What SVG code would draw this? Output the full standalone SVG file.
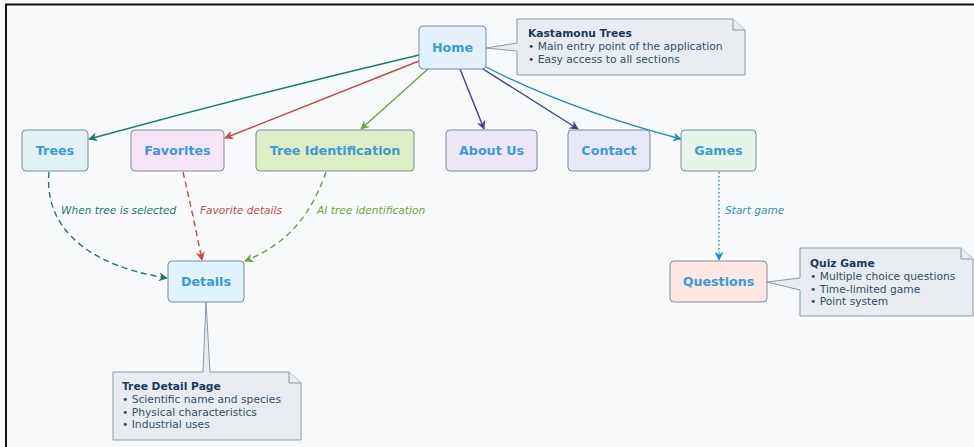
<svg xmlns="http://www.w3.org/2000/svg" width="974" height="447" viewBox="0 0 974 447">
<defs>
<style>
.bg{fill:#f7f9fb}
.node rect{stroke:#7d8b97;stroke-width:1}
.node text{font-family:"DejaVu Sans",sans-serif;font-weight:bold;font-size:12.7px;fill:#3d9bd6;text-anchor:middle}
.note path{fill:#e8ecf0;stroke:#8c9aa6;stroke-width:1}
.note text{font-family:"DejaVu Sans",sans-serif;font-size:10.7px;fill:#34506e}
.note .t{font-weight:bold;fill:#1c3a5e}
.e{fill:none;stroke-width:1.4}
.lbl{font-family:"DejaVu Sans",sans-serif;font-style:italic;font-size:10.6px}
</style>
<marker id="mTeal" viewBox="0 0 10 10" refX="9" refY="5" markerWidth="9" markerHeight="9" orient="auto" markerUnits="userSpaceOnUse"><path d="M0,0 L10,5 L0,10 L3,5 z" fill="#1e7b6b"/></marker>
<marker id="mRed" viewBox="0 0 10 10" refX="9" refY="5" markerWidth="9" markerHeight="9" orient="auto" markerUnits="userSpaceOnUse"><path d="M0,0 L10,5 L0,10 L3,5 z" fill="#d14545"/></marker>
<marker id="mGreen" viewBox="0 0 10 10" refX="9" refY="5" markerWidth="9" markerHeight="9" orient="auto" markerUnits="userSpaceOnUse"><path d="M0,0 L10,5 L0,10 L3,5 z" fill="#6aa63e"/></marker>
<marker id="mPurple" viewBox="0 0 10 10" refX="9" refY="5" markerWidth="9" markerHeight="9" orient="auto" markerUnits="userSpaceOnUse"><path d="M0,0 L10,5 L0,10 L3,5 z" fill="#4b3a9e"/></marker>
<marker id="mIndigo" viewBox="0 0 10 10" refX="9" refY="5" markerWidth="9" markerHeight="9" orient="auto" markerUnits="userSpaceOnUse"><path d="M0,0 L10,5 L0,10 L3,5 z" fill="#3b3f8e"/></marker>
<marker id="mCyan" viewBox="0 0 10 10" refX="9" refY="5" markerWidth="9" markerHeight="9" orient="auto" markerUnits="userSpaceOnUse"><path d="M0,0 L10,5 L0,10 L3,5 z" fill="#1f8fc0"/></marker>
</defs>
<rect class="bg" x="0" y="0" width="974" height="447"/>
<line x1="5" y1="4.5" x2="974" y2="4.5" stroke="#111" stroke-width="2"/>
<line x1="6" y1="4" x2="6" y2="447" stroke="#111" stroke-width="2"/>

<g id="connectors">
<path class="e" stroke="#1e7b6b" d="M419,55 Q250,95 89,139" marker-end="url(#mTeal)"/>
<path class="e" stroke="#d14545" d="M419,61 Q320,100 225,138" marker-end="url(#mRed)"/>
<path class="e" stroke="#6aa63e" d="M428,69 L361,129" marker-end="url(#mGreen)"/>
<path class="e" stroke="#4b3a9e" d="M460,69 L484,129" marker-end="url(#mPurple)"/>
<path class="e" stroke="#3b3f8e" d="M483,69 L578,129" marker-end="url(#mIndigo)"/>
<path class="e" stroke="#1f8fc0" d="M486,67 Q570,110 681,139" marker-end="url(#mCyan)"/>
<path class="e" stroke="#1e7b6b" stroke-dasharray="6,4" d="M49,172 C43,235 100,268 167,278" marker-end="url(#mTeal)"/>
<path class="e" stroke="#d14545" stroke-dasharray="6,4" d="M183,172 Q193,215 202,260" marker-end="url(#mRed)"/>
<path class="e" stroke="#6aa63e" stroke-dasharray="6,4" d="M326,172 C310,218 285,245 245,261" marker-end="url(#mGreen)"/>
<path class="e" stroke="#1f8fc0" stroke-dasharray="1.5,2.5" d="M719,172 L719,260" marker-end="url(#mCyan)"/>
<text class="lbl" x="61" y="214" fill="#1e7b6b">When tree is selected</text>
<text class="lbl" x="200" y="214" fill="#c94a4a">Favorite details</text>
<text class="lbl" x="317" y="214" fill="#6aa63e">AI tree identification</text>
<text class="lbl" x="725" y="214" fill="#2a93c4">Start game</text>
</g>

<g id="note-home" class="note">
<path d="M517,19 H733 L745,30 V75 H517 V51 L486,48 L517,43 Z"/>
<path d="M733,19 V30 H745" fill="none"/>
<text class="t" x="528" y="37">Kastamonu Trees</text>
<text x="528" y="50">• Main entry point of the application</text>
<text x="528" y="63">• Easy access to all sections</text>
</g>

<g id="note-details" class="note">
<path d="M113,372 H203 L206,302 L210,372 H289 L301,383 V440 H113 Z"/>
<path d="M289,372 V383 H301" fill="none"/>
<text class="t" x="122" y="390">Tree Detail Page</text>
<text x="122" y="403">• Scientific name and species</text>
<text x="122" y="415.5">• Physical characteristics</text>
<text x="122" y="428">• Industrial uses</text>
</g>

<g id="note-questions" class="note">
<path d="M800,248 H961 L973,259 V316 H800 V290 L767,282 L800,278 Z"/>
<path d="M961,248 V259 H973" fill="none"/>
<text class="t" x="810" y="267">Quiz Game</text>
<text x="810" y="280">• Multiple choice questions</text>
<text x="810" y="292.5">• Time-limited game</text>
<text x="810" y="305">• Point system</text>
</g>

<g id="home" class="node"><rect x="419" y="26" width="67" height="43" rx="4" fill="#e2f1fb"/><text x="452.5" y="52">Home</text></g>
<g id="trees" class="node"><rect x="22" y="130" width="66" height="41" rx="4" fill="#dff1f2"/><text x="55" y="155">Trees</text></g>
<g id="favorites" class="node"><rect x="131" y="130" width="93" height="41" rx="4" fill="#f4e4f5"/><text x="177.5" y="155">Favorites</text></g>
<g id="tree-identification" class="node"><rect x="256" y="130" width="158" height="41" rx="4" fill="#ddedc4"/><text x="335" y="155">Tree Identification</text></g>
<g id="about-us" class="node"><rect x="446" y="130" width="91" height="41" rx="4" fill="#ede6f6"/><text x="491.5" y="155">About Us</text></g>
<g id="contact" class="node"><rect x="568" y="130" width="82" height="41" rx="4" fill="#e6e9f5"/><text x="609" y="155">Contact</text></g>
<g id="games" class="node"><rect x="681" y="130" width="75" height="41" rx="4" fill="#e5f5e8"/><text x="718.5" y="155">Games</text></g>
<g id="details" class="node"><rect x="168" y="261" width="76" height="41" rx="4" fill="#e0f3fc"/><text x="206" y="286">Details</text></g>
<g id="questions" class="node"><rect x="670" y="261" width="97" height="41" rx="4" fill="#fce7e3"/><text x="718.5" y="286">Questions</text></g>
</svg>
